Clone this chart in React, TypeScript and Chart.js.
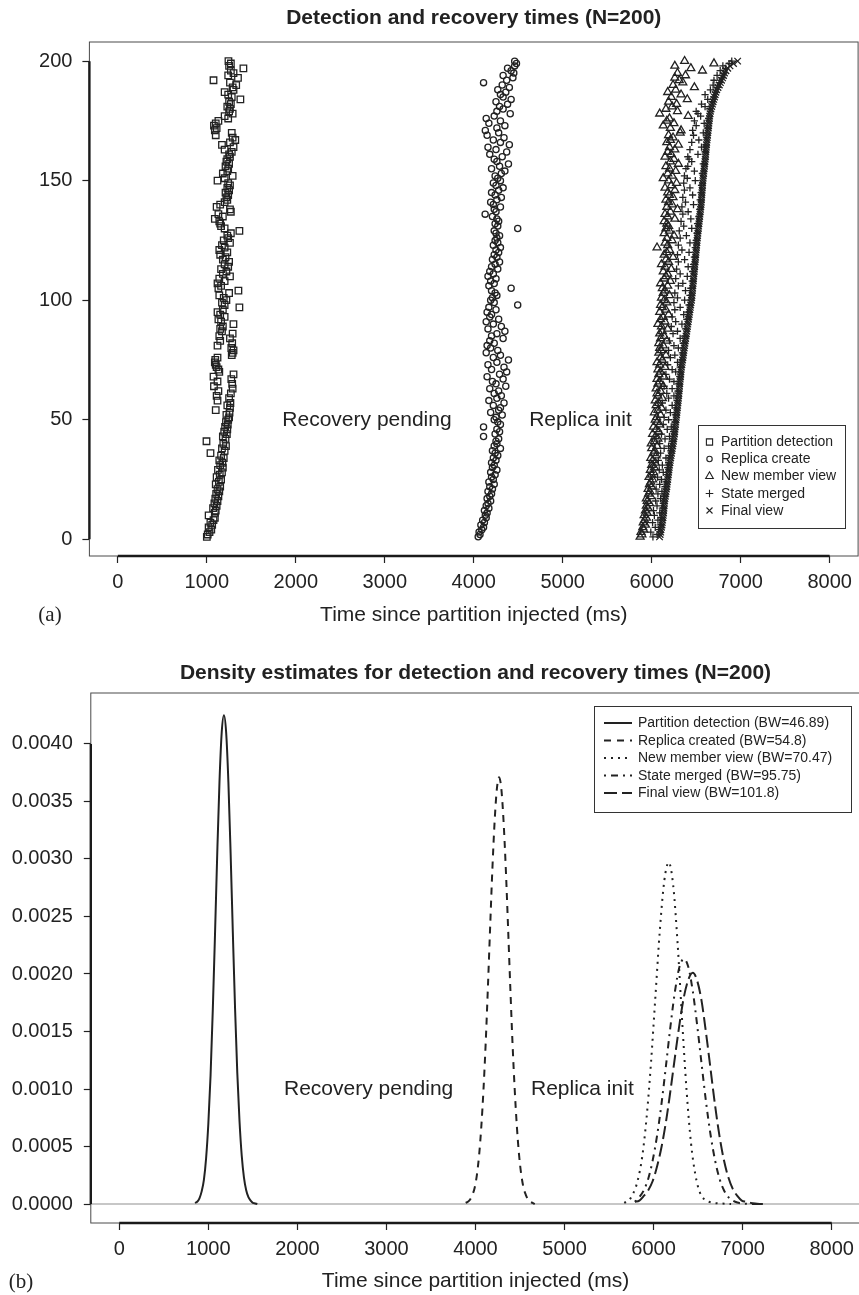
import React, { useEffect, useRef } from 'react';
import { Chart, registerables } from 'chart.js';

Chart.register(...registerables);

const FONT = '"Liberation Sans", Arial, Helvetica, sans-serif';
const SERIF = '"Liberation Serif", "Times New Roman", serif';
const INK = '#222222';

// ---------- Panel (a): run index 1..200 ----------
const runIndex = Array.from({ length: 200 }, (_, i) => i + 1);

const partitionDetection = [
  1000, 1010, 1030, 1050, 1020, 1060, 1040, 1075, 1090, 1020,
  1090, 1100, 1070, 1110, 1085, 1120, 1095, 1130, 1105, 1140,
  1120, 1150, 1100, 1135, 1160, 1110, 1145, 1170, 1125, 1180,
  1150, 1175, 1140, 1190, 1160, 1041, 1200, 1170, 1215, 1185,
  996, 1210, 1180, 1225, 1195, 1230, 1205, 1235, 1215, 1240,
  1250, 1220, 1255, 1100, 1260, 1230, 1265, 1120, 1250, 1110,
  1270, 1130, 1290, 1080, 1285, 1120, 1275, 1075, 1300, 1140,
  1130, 1110, 1100, 1090, 1095, 1120, 1280, 1290, 1300, 1275,
  1120, 1285, 1150, 1260, 1140, 1290, 1170, 1150, 1180, 1299,
  1160, 1130, 1200, 1150, 1120, 1180, 1366, 1200, 1170, 1220,
  1190, 1140, 1250, 1355, 1130, 1160, 1120, 1200, 1140, 1260,
  1180, 1220, 1160, 1240, 1200, 1250, 1180, 1210, 1150, 1230,
  1140, 1200, 1170, 1260, 1190, 1240, 1230, 1270, 1366, 1200,
  1160, 1150, 1140, 1090, 1180, 1130, 1270, 1260, 1110, 1150,
  1200, 1230, 1220, 1240, 1210, 1250, 1230, 1260, 1240, 1120,
  1200, 1290, 1180, 1230, 1240, 1210, 1250, 1220, 1230, 1260,
  1250, 1280, 1200, 1300, 1170, 1260, 1320, 1290, 1100, 1280,
  1090, 1110, 1080, 1100, 1130, 1240, 1200, 1290, 1250, 1260,
  1230, 1270, 1250, 1377, 1280, 1240, 1200, 1300, 1290, 1330,
  1260, 1075, 1350, 1240, 1300, 1270, 1411, 1250, 1270, 1243,
];

const replicaCreate = [
  4050, 4070, 4060, 4090, 4110, 4080, 4120, 4100, 4140, 4130,
  4150, 4120, 4170, 4140, 4160, 4190, 4150, 4180, 4200, 4160,
  4210, 4180, 4230, 4170, 4220, 4200, 4240, 4190, 4260, 4210,
  4230, 4200, 4250, 4220, 4270, 4240, 4210, 4300, 4230, 4260,
  4250, 4280, 4110, 4240, 4290, 4260, 4110, 4300, 4270, 4230,
  4250, 4320, 4190, 4280, 4300, 4220, 4340, 4170, 4260, 4310,
  4230, 4280, 4180, 4360, 4250, 4210, 4330, 4150, 4290, 4370,
  4200, 4340, 4160, 4260, 4390, 4220, 4300, 4140, 4270, 4190,
  4150, 4230, 4180, 4330, 4200, 4260, 4350, 4160, 4310, 4220,
  4140, 4280, 4180, 4200, 4150, 4250, 4170, 4494, 4230, 4190,
  4210, 4260, 4240, 4200, 4420, 4170, 4230, 4190, 4250, 4160,
  4220, 4180, 4270, 4200, 4240, 4290, 4210, 4260, 4230, 4280,
  4250, 4300, 4220, 4270, 4240, 4260, 4290, 4250, 4230, 4494,
  4270, 4240, 4280, 4260, 4210, 4128, 4250, 4230, 4300, 4220,
  4190, 4260, 4310, 4240, 4200, 4280, 4330, 4250, 4220, 4300,
  4270, 4240, 4310, 4350, 4200, 4290, 4390, 4260, 4230, 4320,
  4180, 4370, 4250, 4160, 4400, 4300, 4220, 4340, 4150, 4280,
  4130, 4260, 4350, 4170, 4300, 4140, 4230, 4410, 4260, 4330,
  4290, 4380, 4250, 4420, 4330, 4300, 4360, 4270, 4400, 4320,
  4110, 4370, 4440, 4330, 4450, 4420, 4380, 4460, 4480, 4460,
];

const newMemberView = [
  5870, 5890, 5880, 5910, 5900, 5930, 5905, 5920, 5940, 5915,
  5950, 5930, 5960, 5940, 5975, 5950, 5940, 5990, 5965, 5980,
  5960, 6000, 5975, 5990, 6010, 5970, 6000, 6020, 5985, 6030,
  6000, 6040, 6010, 5990, 6050, 6020, 6035, 6000, 6060, 5995,
  6030, 6070, 6040, 6010, 6080, 6050, 6020, 6090, 6060, 6040,
  6055, 6100, 6030, 6070, 6110, 6050, 6080, 6040, 6120, 6070,
  6060, 6100, 6050, 6130, 6070, 6090, 6060, 6140, 6080, 6100,
  6070, 6150, 6090, 6060, 6120, 6100, 6160, 6080, 6110, 6090,
  6130, 6080, 6170, 6100, 6140, 6090, 6120, 6180, 6110, 6070,
  6150, 6100, 6130, 6190, 6090, 6160, 6120, 6100, 6170, 6140,
  6110, 6200, 6130, 6150, 6120, 6180, 6100, 6210, 6140, 6160,
  6180, 6130, 6220, 6150, 6110, 6190, 6160, 6240, 6140, 6170,
  6200, 6060, 6180, 6150, 6230, 6170, 6250, 6140, 6200, 6160,
  6190, 6170, 6140, 6260, 6180, 6150, 6210, 6290, 6170, 6230,
  6190, 6160, 6240, 6200, 6180, 6260, 6150, 6220, 6280, 6190,
  6130, 6230, 6180, 6270, 6200, 6160, 6300, 6210, 6250, 6150,
  6220, 6180, 6260, 6200, 6300, 6170, 6210, 6240, 6190, 6320,
  6330, 6210, 6130, 6250, 6170, 6200, 6410, 6090, 6290, 6160,
  6230, 6280, 6190, 6400, 6220, 6330, 6180, 6270, 6480, 6240,
  6350, 6310, 6260, 6380, 6290, 6570, 6440, 6260, 6700, 6370,
];

const stateMerged = [
  6014, 6060, 5990, 6080, 6040, 6095, 6010, 6070, 6105, 6030,
  6090, 6020, 6120, 6060, 6130, 6045, 6100, 6140, 6070, 6115,
  6050, 6150, 6090, 6160, 6110, 6065, 6170, 6130, 6085, 6180,
  6120, 6190, 6075, 6160, 6200, 6100, 6215, 6140, 6190, 6090,
  6230, 6150, 6200, 6110, 6245, 6175, 6220, 6130, 6260, 6190,
  6140, 6265, 6210, 6160, 6275, 6230, 6120, 6285, 6190, 6250,
  6170, 6295, 6230, 6140, 6300, 6250, 6200, 6315, 6160, 6270,
  6230, 6320, 6180, 6290, 6340, 6210, 6260, 6345, 6190, 6300,
  6250, 6355, 6200, 6320, 6370, 6240, 6290, 6380, 6220, 6340,
  6270, 6395, 6230, 6360, 6405, 6260, 6320, 6420, 6250, 6370,
  6290, 6430, 6260, 6380, 6440, 6300, 6350, 6455, 6270, 6400,
  6320, 6460, 6280, 6410, 6470, 6300, 6370, 6480, 6290, 6420,
  6340, 6490, 6300, 6430, 6500, 6320, 6390, 6510, 6310, 6450,
  6360, 6515, 6330, 6440, 6530, 6350, 6410, 6540, 6340, 6470,
  6380, 6545, 6350, 6460, 6555, 6368, 6430, 6560, 6360, 6490,
  6400, 6368, 6570, 6480, 6385, 6406, 6580, 6450, 6420, 6406,
  6520, 6600, 6430, 6560, 6610, 6450, 6530, 6620, 6470, 6580,
  6460, 6625, 6500, 6590, 6480, 6640, 6550, 6520, 6500, 6650,
  6600, 6560, 6680, 6630, 6700, 6600, 6715, 6660, 6740, 6690,
  6760, 6700, 6790, 6735, 6810, 6770, 6830, 6800, 6870, 6900,
];

const finalView = [
  6088, 6095, 6101, 6104, 6110, 6116, 6119, 6123, 6127, 6130,
  6133, 6135, 6138, 6140, 6142, 6145, 6149, 6153, 6158, 6161,
  6165, 6170, 6173, 6176, 6180, 6184, 6187, 6190, 6194, 6197,
  6201, 6205, 6209, 6214, 6218, 6222, 6227, 6231, 6236, 6240,
  6244, 6248, 6252, 6256, 6259, 6262, 6265, 6268, 6271, 6274,
  6277, 6280, 6283, 6286, 6289, 6292, 6295, 6298, 6300, 6303,
  6306, 6308, 6311, 6313, 6316, 6318, 6321, 6324, 6327, 6329,
  6331, 6335, 6339, 6343, 6347, 6351, 6355, 6358, 6362, 6366,
  6370, 6374, 6378, 6382, 6386, 6390, 6394, 6398, 6402, 6406,
  6410, 6414, 6418, 6422, 6426, 6430, 6434, 6438, 6442, 6447,
  6450, 6453, 6455, 6458, 6460, 6463, 6465, 6468, 6470, 6473,
  6475, 6478, 6480, 6483, 6485, 6488, 6490, 6493, 6495, 6498,
  6500, 6503, 6505, 6508, 6510, 6513, 6516, 6519, 6522, 6525,
  6528, 6531, 6534, 6537, 6540, 6543, 6546, 6549, 6552, 6555,
  6557, 6559, 6561, 6563, 6565, 6567, 6569, 6571, 6573, 6575,
  6578, 6581, 6584, 6587, 6590, 6593, 6596, 6599, 6602, 6605,
  6607, 6609, 6611, 6613, 6616, 6619, 6622, 6625, 6628, 6631,
  6634, 6637, 6640, 6643, 6646, 6649, 6652, 6656, 6660, 6667,
  6675, 6683, 6690, 6698, 6706, 6714, 6722, 6731, 6745, 6760,
  6772, 6785, 6797, 6808, 6818, 6835, 6855, 6880, 6920, 6966,
];

const scatterLabels = ['Partition detection', 'Replica create', 'New member view', 'State merged', 'Final view'];
const scatterStyles = ['rect', 'circle', 'triangle', 'cross', 'crossRot'];
const scatterRadii = [4.6, 3.1, 4.6, 3.6, 4.6];

// ---------- Panel (b): density estimates ----------
const densityLabels = [
  'Partition detection (BW=46.89)',
  'Replica created (BW=54.8)',
  'New member view (BW=70.47)',
  'State merged (BW=95.75)',
  'Final view (BW=101.8)',
];
const densityDashes = [[], [7, 6], [2, 5], [2, 5, 7, 5], [13, 5]];

const densPartitionX = [850, 875, 900, 925, 950, 975, 1000, 1025, 1050, 1075, 1100, 1125, 1150, 1175, 1200, 1225, 1250, 1275, 1300, 1325, 1350, 1375, 1400, 1425, 1450, 1475, 1500, 1525, 1550];
const densPartitionY = [0.00001, 0.00002, 0.00005, 0.00011, 0.00021, 0.0004, 0.0007, 0.00112, 0.00169, 0.00235, 0.00305, 0.00367, 0.0041, 0.00425, 0.0041, 0.00367, 0.00305, 0.00236, 0.0017, 0.00114, 0.00072, 0.00042, 0.00023, 0.00012, 0.00006, 0.00003, 0.00001, 0.000005, 0];

const densReplicaX = [3890, 3915, 3940, 3965, 3990, 4015, 4040, 4065, 4090, 4115, 4140, 4165, 4190, 4215, 4240, 4265, 4290, 4315, 4340, 4365, 4390, 4415, 4440, 4465, 4490, 4515, 4540, 4565, 4590, 4615, 4640, 4665];
const densReplicaY = [0.00001, 0.00002, 0.00004, 0.00008, 0.00014, 0.00025, 0.00042, 0.00067, 0.001, 0.00141, 0.0019, 0.00242, 0.00292, 0.00333, 0.00361, 0.00371, 0.00361, 0.00333, 0.00292, 0.00242, 0.0019, 0.00141, 0.001, 0.00067, 0.00042, 0.00025, 0.00014, 0.00008, 0.00004, 0.00002, 0.00001, 0];

const densMemberX = [5670, 5720, 5770, 5820, 5870, 5920, 5970, 6020, 6070, 6120, 6170, 6220, 6270, 6320, 6370, 6420, 6470, 6520, 6570, 6620, 6670, 6720, 6770, 6820, 6870];
const densMemberY = [0.00001, 0.00003, 0.00009, 0.0002, 0.0004, 0.00074, 0.00122, 0.0018, 0.00238, 0.00281, 0.00297, 0.00277, 0.00226, 0.0016, 0.00099, 0.00053, 0.00025, 0.0001, 0.00004, 0.00002, 0.00001, 0.000006, 0.000004, 0.000002, 0];

const densMergedX = [5790, 5840, 5890, 5940, 5990, 6040, 6090, 6140, 6190, 6240, 6290, 6340, 6390, 6440, 6490, 6540, 6590, 6640, 6690, 6740, 6790, 6840, 6890, 6940, 6990, 7040, 7090, 7140, 7190];
const densMergedY = [0.00002, 0.00006, 0.00012, 0.00022, 0.00038, 0.0006, 0.00088, 0.00121, 0.00155, 0.00185, 0.00206, 0.00213, 0.00206, 0.00185, 0.00155, 0.00121, 0.00088, 0.0006, 0.00038, 0.00022, 0.00012, 0.00006, 0.00003, 0.000013, 0.000005, 0.000002, 0.000001, 0, 0];

const densFinalX = [5790, 5840, 5890, 5940, 5990, 6040, 6090, 6140, 6190, 6240, 6290, 6340, 6390, 6440, 6490, 6540, 6590, 6640, 6690, 6740, 6790, 6840, 6890, 6940, 6990, 7040, 7090, 7140, 7190, 7240];
const densFinalY = [0.00002, 0.00003, 0.00007, 0.00012, 0.0002, 0.00033, 0.0005, 0.00072, 0.00099, 0.00128, 0.00156, 0.0018, 0.00195, 0.00201, 0.00194, 0.00176, 0.00148, 0.00117, 0.00086, 0.00059, 0.00038, 0.00023, 0.00013, 0.00007, 0.00003, 0.00002, 0.00001, 0.000004, 0.000001, 0];

// ---------- axes ----------
const xTicks = [0, 1000, 2000, 3000, 4000, 5000, 6000, 7000, 8000];
const yTicksA = [0, 50, 100, 150, 200];
const yTicksB = [0, 0.0005, 0.001, 0.0015, 0.002, 0.0025, 0.003, 0.0035, 0.004];
const xTitle = 'Time since partition injected (ms)';
const titleA = 'Detection and recovery times (N=200)';
const titleB = 'Density estimates for detection and recovery times (N=200)';
const notes = [
  { text: 'Recovery pending', x: 2800 },
  { text: 'Replica init', x: 5200 },
];

function toPoints(xs: number[], ys: number[]) {
  return xs.map((x, i) => ({ x, y: ys[i] }));
}

function drawMarker(ctx: CanvasRenderingContext2D, style: string, x: number, y: number, s: number) {
  ctx.beginPath();
  if (style === 'rect') ctx.rect(x - s, y - s, 2 * s, 2 * s);
  else if (style === 'circle') ctx.arc(x, y, s, 0, Math.PI * 2);
  else if (style === 'triangle') {
    ctx.moveTo(x, y - s * 1.1);
    ctx.lineTo(x + s, y + s * 0.65);
    ctx.lineTo(x - s, y + s * 0.65);
    ctx.closePath();
  } else if (style === 'cross') {
    ctx.moveTo(x - s, y); ctx.lineTo(x + s, y);
    ctx.moveTo(x, y - s); ctx.lineTo(x, y + s);
  } else {
    ctx.moveTo(x - s, y - s); ctx.lineTo(x + s, y + s);
    ctx.moveTo(x + s, y - s); ctx.lineTo(x - s, y + s);
  }
  ctx.stroke();
}

function decoPlugin(opts: {
  yTicks: number[];
  noteY: number;
  panel: string;
  panelX: number;
  panelY: number;
  legend: (ctx: CanvasRenderingContext2D) => void;
}) {
  return {
    id: 'rdeco',
    afterDraw(chart: any) {
      const { ctx, chartArea: ca } = chart;
      const x = chart.scales.x;
      const y = chart.scales.y;
      ctx.save();
      ctx.strokeStyle = '#4a4a4a';
      ctx.lineWidth = 1;
      ctx.setLineDash([]);
      ctx.strokeRect(ca.left, ca.top, ca.right - ca.left, ca.bottom - ca.top);
      ctx.strokeStyle = '#1a1a1a';
      ctx.lineWidth = 2.4;
      ctx.beginPath();
      ctx.moveTo(x.getPixelForValue(xTicks[0]), ca.bottom);
      ctx.lineTo(x.getPixelForValue(xTicks[xTicks.length - 1]), ca.bottom);
      ctx.moveTo(ca.left, y.getPixelForValue(opts.yTicks[0]));
      ctx.lineTo(ca.left, y.getPixelForValue(opts.yTicks[opts.yTicks.length - 1]));
      ctx.stroke();
      ctx.fillStyle = INK;
      ctx.font = `21px ${FONT}`;
      ctx.textAlign = 'center';
      ctx.textBaseline = 'middle';
      notes.forEach((n) => {
        ctx.fillText(n.text, x.getPixelForValue(n.x), y.getPixelForValue(opts.noteY));
      });
      ctx.font = `21px ${SERIF}`;
      ctx.fillText(opts.panel, opts.panelX, opts.panelY);
      opts.legend(ctx);
      ctx.restore();
    },
  };
}

function scaleX(height: number, titlePadBottom: number) {
  return {
    type: 'linear',
    min: -320,
    max: 8320,
    afterBuildTicks: (s: any) => { s.ticks = xTicks.map((v) => ({ value: v })); },
    afterFit: (s: any) => { s.height = height; },
    grid: { display: true, drawOnChartArea: false, drawTicks: true, tickLength: 7, tickWidth: 1.2, tickColor: INK },
    border: { display: false },
    ticks: { font: { family: FONT, size: 20 }, color: INK, padding: 7, maxRotation: 0, autoSkip: false, callback: (v: any) => String(v) },
    title: { display: true, text: xTitle, font: { family: FONT, size: 21 }, color: INK, padding: { top: 0, bottom: titlePadBottom } },
  };
}

function scaleY(min: number, max: number, ticks: number[], width: number, pad: number, fmt: (v: number) => string) {
  return {
    type: 'linear',
    min,
    max,
    afterBuildTicks: (s: any) => { s.ticks = ticks.map((v) => ({ value: v })); },
    afterFit: (s: any) => { s.width = width; },
    grid: { display: true, drawOnChartArea: false, drawTicks: true, tickLength: 7, tickWidth: 1.2, tickColor: INK },
    border: { display: false },
    ticks: { font: { family: FONT, size: 20 }, color: INK, padding: pad, autoSkip: false, callback: (v: any) => fmt(Number(v)) },
  };
}

function configA(): any {
  const series = [partitionDetection, replicaCreate, newMemberView, stateMerged, finalView];
  const datasets = series.map((vals, k) => ({
    type: 'scatter',
    label: scatterLabels[k],
    data: vals.map((v, i) => ({ x: v, y: runIndex[i] })),
    pointStyle: scatterStyles[k],
    pointRadius: scatterRadii[k],
    pointBorderColor: INK,
    pointBackgroundColor: 'rgba(0,0,0,0)',
    pointBorderWidth: 1.3,
    showLine: false,
  }));
  const legend = (ctx: CanvasRenderingContext2D) => {
    const bx = 698, by = 425, bw = 147, bh = 103;
    ctx.fillStyle = '#ffffff';
    ctx.fillRect(bx, by, bw, bh);
    ctx.strokeStyle = '#333333';
    ctx.lineWidth = 1;
    ctx.strokeRect(bx + 0.5, by + 0.5, bw, bh);
    const rows = [442, 459, 476, 493.5, 510.5];
    const sizes = [3.1, 2.7, 3.8, 3.8, 3.0];
    ctx.font = `14px ${FONT}`;
    ctx.textAlign = 'left';
    ctx.textBaseline = 'middle';
    rows.forEach((ry, k) => {
      ctx.strokeStyle = INK;
      ctx.lineWidth = 1.1;
      drawMarker(ctx, scatterStyles[k], 709.5, ry, sizes[k]);
      ctx.fillStyle = INK;
      ctx.fillText(scatterLabels[k], 721, ry + 0.5);
    });
  };
  return {
    type: 'scatter',
    data: { datasets },
    options: {
      responsive: false,
      animation: false,
      events: [],
      layout: { padding: { left: 0, right: 3.4, top: 0, bottom: 0 } },
      scales: {
        x: scaleX(91, 19.5),
        y: scaleY(-7, 208, yTicksA, 89.4, 10, (v) => String(v)),
      },
      plugins: {
        legend: { display: false },
        tooltip: { enabled: false },
        title: {
          display: true, text: titleA, fullSize: false, color: INK,
          font: { family: FONT, size: 21, weight: 'bold' },
          padding: { top: 5.4, bottom: 11.4 },
        },
      },
    },
    plugins: [decoPlugin({ yTicks: yTicksA, noteY: 50, panel: '(a)', panelX: 50, panelY: 615, legend })],
  };
}

function configB(): any {
  const xs = [densPartitionX, densReplicaX, densMemberX, densMergedX, densFinalX];
  const ys = [densPartitionY, densReplicaY, densMemberY, densMergedY, densFinalY];
  const datasets: any[] = xs.map((xv, k) => ({
    label: densityLabels[k],
    data: toPoints(xv, ys[k]),
    borderColor: INK,
    borderWidth: 2,
    borderDash: densityDashes[k],
    pointRadius: 0,
    fill: false,
    cubicInterpolationMode: 'monotone',
  }));
  datasets.push({
    label: 'zero',
    data: [{ x: -320, y: 0 }, { x: 8320, y: 0 }],
    borderColor: '#b4b4b4',
    borderWidth: 1.5,
    pointRadius: 0,
    fill: false,
  });
  const legend = (ctx: CanvasRenderingContext2D) => {
    const bx = 594, by = 59, bw = 257, bh = 106;
    ctx.fillStyle = '#ffffff';
    ctx.fillRect(bx, by, bw, bh);
    ctx.strokeStyle = '#333333';
    ctx.lineWidth = 1;
    ctx.strokeRect(bx + 0.5, by + 0.5, bw, bh);
    const rows = [76, 93.5, 111, 128.5, 146];
    ctx.font = `14px ${FONT}`;
    ctx.textAlign = 'left';
    ctx.textBaseline = 'middle';
    rows.forEach((ry, k) => {
      ctx.strokeStyle = INK;
      ctx.lineWidth = 2;
      ctx.setLineDash(densityDashes[k]);
      ctx.beginPath();
      ctx.moveTo(604, ry);
      ctx.lineTo(632, ry);
      ctx.stroke();
      ctx.setLineDash([]);
      ctx.fillStyle = INK;
      ctx.fillText(densityLabels[k], 638, ry + 0.5);
    });
  };
  return {
    type: 'line',
    data: { datasets },
    options: {
      responsive: false,
      animation: false,
      events: [],
      layout: { padding: { left: 0, right: 3.8, top: 0, bottom: 0 } },
      scales: {
        x: scaleX(72, 1.0),
        y: scaleY(-0.000165, 0.004443, yTicksB, 90.8, 11, (v) => v.toFixed(4)),
      },
      plugins: {
        legend: { display: false },
        tooltip: { enabled: false },
        title: {
          display: true, text: titleB, fullSize: false, color: INK,
          font: { family: FONT, size: 21, weight: 'bold' },
          padding: { top: 14, bottom: 6.8 },
        },
      },
    },
    plugins: [decoPlugin({ yTicks: yTicksB, noteY: 0.001, panel: '(b)', panelX: 21, panelY: 635, legend })],
  };
}

export default function App() {
  const refA = useRef<HTMLCanvasElement>(null);
  const refB = useRef<HTMLCanvasElement>(null);
  useEffect(() => {
    const a = new Chart(refA.current as HTMLCanvasElement, configA());
    const b = new Chart(refB.current as HTMLCanvasElement, configB());
    return () => {
      a.destroy();
      b.destroy();
    };
  }, []);
  return (
    <div style={{ position: 'absolute', left: 0, top: 0, width: 859, height: 1295, overflow: 'hidden', background: '#ffffff' }}>
      <canvas ref={refA} width={864} height={647} style={{ position: 'absolute', left: 0, top: 0, display: 'block' }} />
      <canvas ref={refB} width={864} height={648} style={{ position: 'absolute', left: 0, top: 647, display: 'block' }} />
    </div>
  );
}
